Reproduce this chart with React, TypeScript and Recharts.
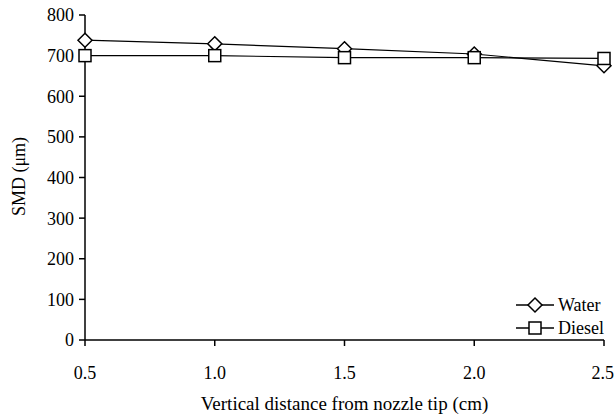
import React from "react";
import { LineChart, Line, XAxis, YAxis, Legend } from "recharts";

const distances = [0.5, 1.0, 1.5, 2.0, 2.5];
const waterSMD = [738, 729, 717, 704, 675];
const dieselSMD = [700, 700, 695, 695, 693];
const xTicks = [0.5, 1.0, 1.5, 2.0, 2.5];
const yTicks = [0, 100, 200, 300, 400, 500, 600, 700, 800];
const seriesNames = ["Water", "Diesel"];

const data = distances.map((d, i) => ({
  x: d,
  water: waterSMD[i],
  diesel: dieselSMD[i],
}));

const FONT = "'Liberation Serif', 'Times New Roman', serif";

const Diamond = (props: any) => {
  const { cx, cy, r = 7 } = props;
  if (cx == null || cy == null) return null;
  return (
    <polygon
      points={`${cx},${cy - r} ${cx + r},${cy} ${cx},${cy + r} ${cx - r},${cy}`}
      fill="#fff"
      stroke="#000"
      strokeWidth={1.5}
    />
  );
};

const Square = (props: any) => {
  const { cx, cy, r = 6 } = props;
  if (cx == null || cy == null) return null;
  return (
    <rect
      x={cx - r}
      y={cy - r}
      width={2 * r}
      height={2 * r}
      fill="#fff"
      stroke="#000"
      strokeWidth={1.5}
    />
  );
};

const LegendContent = () => (
  <div style={{ fontFamily: FONT, fontSize: 18, color: "#000", lineHeight: "20px" }}>
    {seriesNames.map((name, i) => (
      <div key={name} style={{ display: "flex", alignItems: "center", height: 23 }}>
        <svg width={42} height={20} style={{ display: "block" }}>
          <line x1={2} y1={10} x2={40} y2={10} stroke="#000" strokeWidth={1.5} />
          {i === 0 ? <Diamond cx={21} cy={10} r={7} /> : <Square cx={21} cy={10} r={6} />}
        </svg>
        <span style={{ marginLeft: 2 }}>{name}</span>
      </div>
    ))}
  </div>
);

const YLabel = (props: any) => {
  const vb = props.viewBox || {};
  const x = (vb.x ?? 0) + 19;
  const y = (vb.y ?? 0) + (vb.height ?? 0) / 2 - 1;
  return (
    <text
      x={x}
      y={y}
      transform={`rotate(-90, ${x}, ${y})`}
      textAnchor="middle"
      dominantBaseline="central"
      fontFamily={FONT}
      fontSize={18}
      fill="#000"
    >
      SMD (μm)
    </text>
  );
};

export default function App() {
  return (
    <div style={{ position: "absolute", left: 0, top: 0, background: "#fff" }}>
      <LineChart
        width={614}
        height={419}
        data={data}
        margin={{ top: 15, right: 10, bottom: 0, left: 0 }}
      >
        <XAxis
          dataKey="x"
          type="number"
          domain={[0.5, 2.5]}
          ticks={xTicks}
          tickFormatter={(v: number) => v.toFixed(1)}
          height={79}
          stroke="#000"
          strokeWidth={1.5}
          tickSize={6}
          tickMargin={20}
          tick={{ fill: "#000", fontFamily: FONT, fontSize: 18 }}
          label={{
            value: "Vertical distance from nozzle tip (cm)",
            position: "insideBottom",
            offset: 9,
            fill: "#000",
            fontFamily: FONT,
            fontSize: 19,
          }}
        />
        <YAxis
          type="number"
          domain={[0, 800]}
          ticks={yTicks}
          width={85}
          stroke="#000"
          strokeWidth={1.5}
          tickSize={6}
          tickMargin={5}
          interval={0}
          tick={{ fill: "#000", fontFamily: FONT, fontSize: 18 }}
          label={{ content: YLabel }}
        />
        <Legend
          layout="vertical"
          verticalAlign="middle"
          align="center"
          content={LegendContent}
          wrapperStyle={{ position: "absolute", left: 514, top: 293, width: 100 }}
        />
        <Line
          dataKey="water"
          name="Water"
          stroke="#000"
          strokeWidth={1.2}
          dot={<Diamond r={7} />}
          isAnimationActive={false}
        />
        <Line
          dataKey="diesel"
          name="Diesel"
          stroke="#000"
          strokeWidth={1.2}
          dot={<Square r={6} />}
          isAnimationActive={false}
        />
      </LineChart>
    </div>
  );
}
